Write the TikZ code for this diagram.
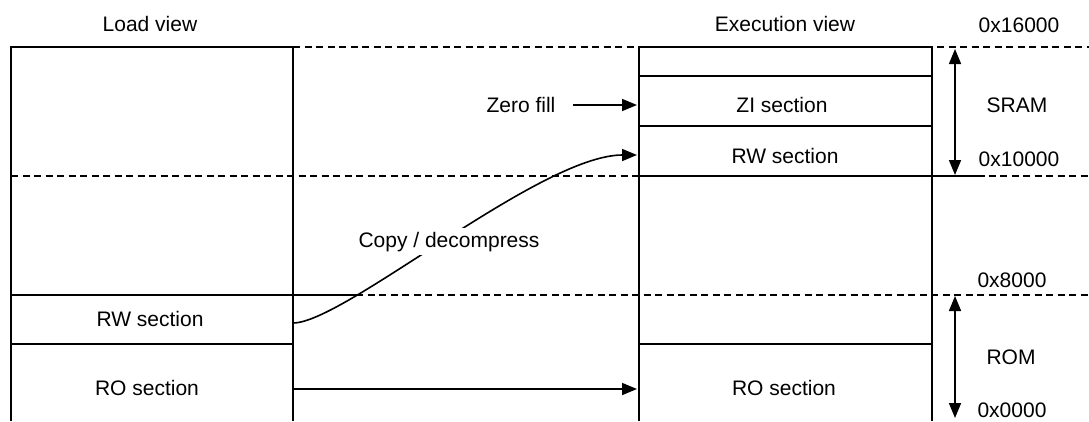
\documentclass[tikz,border=0pt]{standalone}
\usepackage{fontspec}
\setmainfont{Liberation Sans}
\usetikzlibrary{arrows.meta}
\begin{document}
\begin{tikzpicture}[x=1pt,y=-1pt,
  boxline/.style={line width=2.6pt,line join=miter},
  thinline/.style={line width=1.6pt},
  dashline/.style={line width=1.5pt,dash pattern=on 7pt off 4.5pt},
  arr/.style={line width=1.6pt,-{Triangle[length=15pt,width=12pt]}},
  darr/.style={line width=1.6pt,{Triangle[length=15pt,width=12pt]}-{Triangle[length=15pt,width=12pt]}},
  lbl/.style={font=\fontsize{21}{24}\selectfont,inner sep=0pt,anchor=base},
  lblw/.style={lbl,fill=white,inner sep=4pt}]
\useasboundingbox (0,0) rectangle (1089,421);
% dashed address lines
\draw[dashline] (293,47) -- (1089,47);
\draw[dashline] (11,176) -- (1089,176);
\draw[dashline] (11,295) -- (1089,295);
% solid overlays
\draw[thinline] (639,176) -- (985,176);
\draw[thinline] (11,295) -- (362,295);
% load view box
\draw[boxline] (11,421) -- (11,47) -- (293,47) -- (293,421);
\draw[thinline] (11,344) -- (293,344);
% execution view box
\draw[boxline] (639,421) -- (639,47) -- (932,47) -- (932,421);
\draw[thinline] (639,76) -- (932,76);
\draw[thinline] (639,126) -- (932,126);
\draw[thinline] (639,344) -- (932,344);
% headers
\node[lbl] (loadv) at (150,31) {Load view};
\node[lbl] (execv) at (785,31) {Execution view};
% sections
\node[lbl] (zi) at (782,112) {ZI section};
\node[lbl] (rwE) at (785,163) {RW section};
\node[lbl] (rwL) at (150,326) {RW section};
\node[lbl] (roL) at (147,395) {RO section};
\node[lbl] (roE) at (784,395) {RO section};
% connectors
\node[lbl] (zf) at (521,112) {Zero fill};
\coordinate (zfs) at (573,105);
\coordinate (zfe) at (637,105);
\draw[arr] (zfs) -- (zfe);
\coordinate (cps) at (293,323);
\coordinate (cpe) at (637,155);
\draw[arr] (cps) .. controls (344,323) and (540,155) .. (cpe);
\node[lblw] (cp) at (449,247) {Copy / decompress};
\coordinate (ros) at (293,389);
\coordinate (roe) at (637,389);
\draw[arr] (ros) -- (roe);
% address range arrows
\coordinate (sramT) at (955,49);
\coordinate (sramB) at (955,175);
\draw[darr] (sramT) -- (sramB);
\coordinate (romT) at (955,296);
\coordinate (romB) at (955,418);
\draw[darr] (romT) -- (romB);
% address labels
\node[lbl] (a16) at (1019,32) {0x16000};
\node[lbl] (sram) at (1017,112) {SRAM};
\node[lbl] (a10) at (1019,166) {0x10000};
\node[lbl] (a8) at (1012,287) {0x8000};
\node[lbl] (rom) at (1011,364) {ROM};
\node[lbl] (a0) at (1012,417) {0x0000};
\end{tikzpicture}
\end{document}
